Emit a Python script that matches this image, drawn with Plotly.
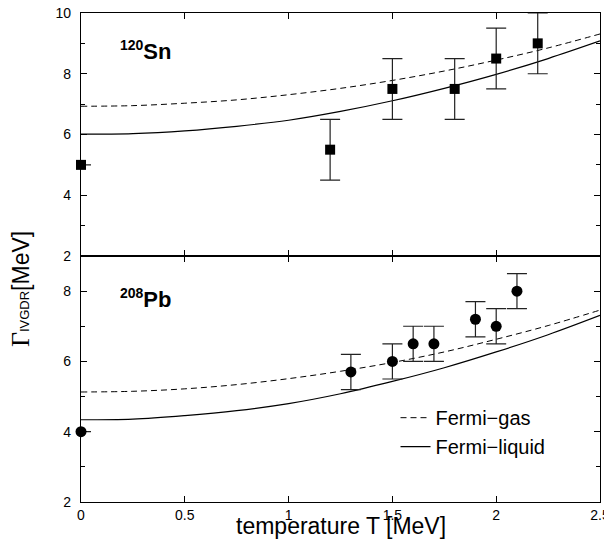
import plotly.graph_objects as go

# ---- data ----
T_curve = [0.0, 0.25, 0.5, 0.75, 1.0, 1.25, 1.5, 1.75, 2.0, 2.25, 2.5]

sn_gas    = [6.93, 6.95, 7.03, 7.14, 7.31, 7.52, 7.78, 8.09, 8.45, 8.85, 9.31]
sn_liquid = [6.01, 6.03, 6.12, 6.27, 6.47, 6.76, 7.11, 7.52, 7.98, 8.50, 9.08]
pb_gas    = [5.13, 5.15, 5.22, 5.34, 5.51, 5.72, 5.97, 6.27, 6.63, 7.02, 7.46]
pb_liquid = [4.34, 4.36, 4.46, 4.60, 4.80, 5.08, 5.43, 5.82, 6.27, 6.76, 7.31]

sn_T   = [0.0, 1.2, 1.5, 1.8, 2.0, 2.2]
sn_G   = [5.0, 5.5, 7.5, 7.5, 8.5, 9.0]
sn_err = [0.0, 1.0, 1.0, 1.0, 1.0, 1.0]

pb_T   = [0.0, 1.3, 1.5, 1.6, 1.7, 1.9, 2.0, 2.1]
pb_G   = [4.0, 5.7, 6.0, 6.5, 6.5, 7.2, 7.0, 8.0]
pb_err = [0.0, 0.5, 0.5, 0.5, 0.5, 0.5, 0.5, 0.5]

x_ticks = [0, 0.5, 1, 1.5, 2, 2.5]
x_ticklabels = ["0", "0.5", "1", "1.5", "2", "2.5"]

FONT = "Liberation Sans"
BLACK = "black"

fig = go.Figure()

dash = "6px,4px"

# top panel (Sn)
fig.add_trace(go.Scatter(x=T_curve, y=sn_gas, mode="lines", line=dict(color=BLACK, width=1, dash=dash, shape="spline"),
                         xaxis="x2", yaxis="y2", showlegend=False))
fig.add_trace(go.Scatter(x=T_curve, y=sn_liquid, mode="lines", line=dict(color=BLACK, width=1.2, shape="spline"),
                         xaxis="x2", yaxis="y2", showlegend=False))
fig.add_trace(go.Scatter(x=sn_T, y=sn_G, mode="markers", marker=dict(symbol="square", size=10, color=BLACK),
                         error_y=dict(type="data", array=sn_err, visible=True, color="#222", thickness=1.2, width=10),
                         xaxis="x2", yaxis="y2", showlegend=False, cliponaxis=False))

# bottom panel (Pb)
fig.add_trace(go.Scatter(x=T_curve, y=pb_gas, mode="lines", name="Fermi\u2212gas",
                         line=dict(color=BLACK, width=1, dash=dash, shape="spline"),
                         xaxis="x", yaxis="y"))
fig.add_trace(go.Scatter(x=T_curve, y=pb_liquid, mode="lines", name="Fermi\u2212liquid",
                         line=dict(color=BLACK, width=1.2, shape="spline"),
                         xaxis="x", yaxis="y"))
fig.add_trace(go.Scatter(x=pb_T, y=pb_G, mode="markers", marker=dict(symbol="circle", size=11, color=BLACK),
                         error_y=dict(type="data", array=pb_err, visible=True, color="#222", thickness=1.2, width=10),
                         xaxis="x", yaxis="y", showlegend=False, cliponaxis=False))

axis_common = dict(showline=True, linecolor=BLACK, linewidth=1.2, mirror="ticks", ticks="inside",
                   ticklen=6, tickcolor=BLACK, tickwidth=1, showgrid=False, zeroline=False,
                   automargin=False, ticklabeloverflow="allow",
                   tickfont=dict(family=FONT, size=14, color=BLACK))

SPLIT = 0.5031

fig.update_layout(
    width=604, height=542,
    margin=dict(l=73, r=12, t=5, b=48, autoexpand=False),
    paper_bgcolor="white", plot_bgcolor="white",
    xaxis=dict(axis_common, range=[0, 2.5], tickvals=x_ticks, ticktext=x_ticklabels, anchor="y", domain=[0, 1]),
    xaxis2=dict(axis_common, range=[0, 2.5], tickvals=x_ticks, showticklabels=False, anchor="y2", domain=[0, 1]),
    yaxis=dict(axis_common, range=[2, 9], dtick=2, tick0=2, anchor="x", domain=[0, SPLIT], ticklabelstandoff=6,
               minor=dict(ticks="inside", ticklen=4, dtick=1, tick0=2, tickcolor=BLACK, showgrid=False)),
    yaxis2=dict(axis_common, range=[2, 10], dtick=2, tick0=2, anchor="x2", domain=[SPLIT, 1], ticklabelstandoff=6,
                minor=dict(ticks="inside", ticklen=4, dtick=1, tick0=2, tickcolor=BLACK, showgrid=False)),
    legend=dict(x=0.606, y=0.2123, xanchor="left", yanchor="top", bgcolor="rgba(0,0,0,0)",
                font=dict(family=FONT, size=20, color=BLACK), tracegroupgap=0),
    showlegend=True,
)

annotations = [
    dict(text='<sup><span style="font-size:14px">120</span></sup>Sn', x=0.071, y=0.9223, xref="paper", yref="paper",
         xanchor="left", yanchor="middle", showarrow=False,
         font=dict(family=FONT, size=22, color=BLACK, weight="bold")),
    dict(text='<sup><span style="font-size:14px">208</span></sup>Pb', x=0.071, y=0.4155, xref="paper", yref="paper",
         xanchor="left", yanchor="middle", showarrow=False,
         font=dict(family=FONT, size=22, color=BLACK, weight="bold")),
    dict(text="temperature T [MeV]", x=0.5, y=-0.0493, xref="paper", yref="paper",
         xanchor="center", yanchor="middle", showarrow=False,
         font=dict(family=FONT, size=23, color=BLACK)),
    dict(text='<span style="font-family:Liberation Serif;font-size:26px">\u0393</span>'
              '<span style="font-size:13px">IVGDR</span>[MeV]',
         x=-0.1154, y=0.4356, xref="paper", yref="paper", textangle=-90,
         xanchor="center", yanchor="middle", showarrow=False,
         font=dict(family=FONT, size=23, color=BLACK)),
]
fig.update_layout(annotations=annotations)

fig.write_html("out.html")
